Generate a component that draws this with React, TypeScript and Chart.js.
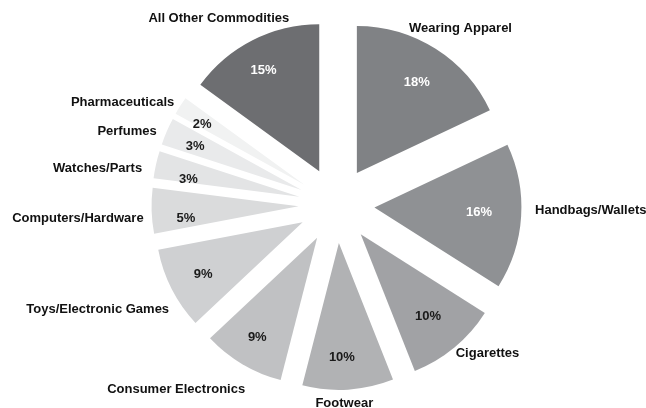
import React, { useEffect, useRef } from 'react';
import { Chart, registerables } from 'chart.js';

Chart.register(...registerables);

const categories = [
  'Wearing Apparel',
  'Handbags/Wallets',
  'Cigarettes',
  'Footwear',
  'Consumer Electronics',
  'Toys/Electronic Games',
  'Computers/Hardware',
  'Watches/Parts',
  'Perfumes',
  'Pharmaceuticals',
  'All Other Commodities',
];
const shares = [18, 16, 10, 10, 9, 9, 5, 3, 3, 2, 15];
const sliceColors = [
  '#808285',
  '#8f9194',
  '#a1a2a5',
  '#b1b2b4',
  '#c0c1c3',
  '#cfd0d2',
  '#dadbdc',
  '#e3e4e5',
  '#e9eaeb',
  '#f1f2f2',
  '#6d6e71',
];
const percentColors = [
  '#ffffff',
  '#ffffff',
  '#1a1a1a',
  '#1a1a1a',
  '#1a1a1a',
  '#1a1a1a',
  '#1a1a1a',
  '#1a1a1a',
  '#1a1a1a',
  '#1a1a1a',
  '#ffffff',
];

// label placement tweaks (style only), relative to computed anchors
const nameNudge: [number, number][] = [
  [-6, -10], [8, -7], [9, -4], [-6, 1], [-28, 14], [-5, 15],
  [-2, 7], [-9, 7], [-7, 5], [-9, 3], [1, -11],
];
const pctNudge: [number, number][] = [
  [0, 4], [-7, -2], [-4, -4], [-4, 3], [-3, 4], [0, 1],
  [-1, 9], [-2, 7], [-4, 1], [-8, 0], [-5, -1],
];

const EXPLODE = 38;
const FONT = 'bold 13px "Liberation Sans", Arial, Helvetica, sans-serif';

const explodePlugin = {
  id: 'explodeLabels',
  beforeDatasetDraw(chart: any, args: any) {
    const ctx = chart.ctx;
    args.meta.data.forEach((arc: any) => {
      const mid = (arc.startAngle + arc.endAngle) / 2;
      ctx.save();
      ctx.translate(Math.cos(mid) * EXPLODE, Math.sin(mid) * EXPLODE);
      arc.draw(ctx);
      ctx.restore();
    });
    return false;
  },
  afterDraw(chart: any) {
    const ctx = chart.ctx;
    const meta = chart.getDatasetMeta(0);
    ctx.save();
    ctx.font = FONT;
    ctx.textBaseline = 'middle';
    ctx.textAlign = 'center';
    meta.data.forEach((arc: any, i: number) => {
      const mid = (arc.startAngle + arc.endAngle) / 2;
      const c = Math.cos(mid);
      const s = Math.sin(mid);
      const ox = arc.x + c * EXPLODE;
      const oy = arc.y + s * EXPLODE;
      const R = arc.outerRadius;
      // percentage inside
      const pr = R * 0.76;
      ctx.fillStyle = percentColors[i];
      ctx.fillText(shares[i] + '%', ox + c * pr + pctNudge[i][0], oy + s * pr + pctNudge[i][1]);
      // category outside
      const text = categories[i];
      const w = ctx.measureText(text).width;
      const h = 13;
      const L = R + 6;
      const bx = ox + c * L + c * (w / 2) + nameNudge[i][0];
      const by = oy + s * L + s * (h / 2) + nameNudge[i][1];
      ctx.fillStyle = '#111111';
      ctx.fillText(text, bx, by);
    });
    ctx.restore();
  },
};

export default function App() {
  const canvasRef = useRef<HTMLCanvasElement | null>(null);

  useEffect(() => {
    const canvas = canvasRef.current;
    if (!canvas) return;
    const chart = new Chart(canvas, {
      type: 'pie',
      data: {
        labels: categories,
        datasets: [
          {
            data: shares,
            backgroundColor: sliceColors,
            borderWidth: 0,
            radius: 147,
          } as any,
        ],
      },
      options: {
        responsive: false,
        animation: false,
        events: [],
        radius: 147,
        layout: { padding: { left: 27, right: 0, top: 2, bottom: 0 } },
        plugins: {
          legend: { display: false },
          tooltip: { enabled: false },
        },
      } as any,
      plugins: [explodePlugin],
    });
    return () => chart.destroy();
  }, []);

  return (
    <div style={{ position: 'absolute', left: 0, top: 0, width: 646, height: 408, background: '#ffffff' }}>
      <canvas ref={canvasRef} width={646} height={408} />
    </div>
  );
}
